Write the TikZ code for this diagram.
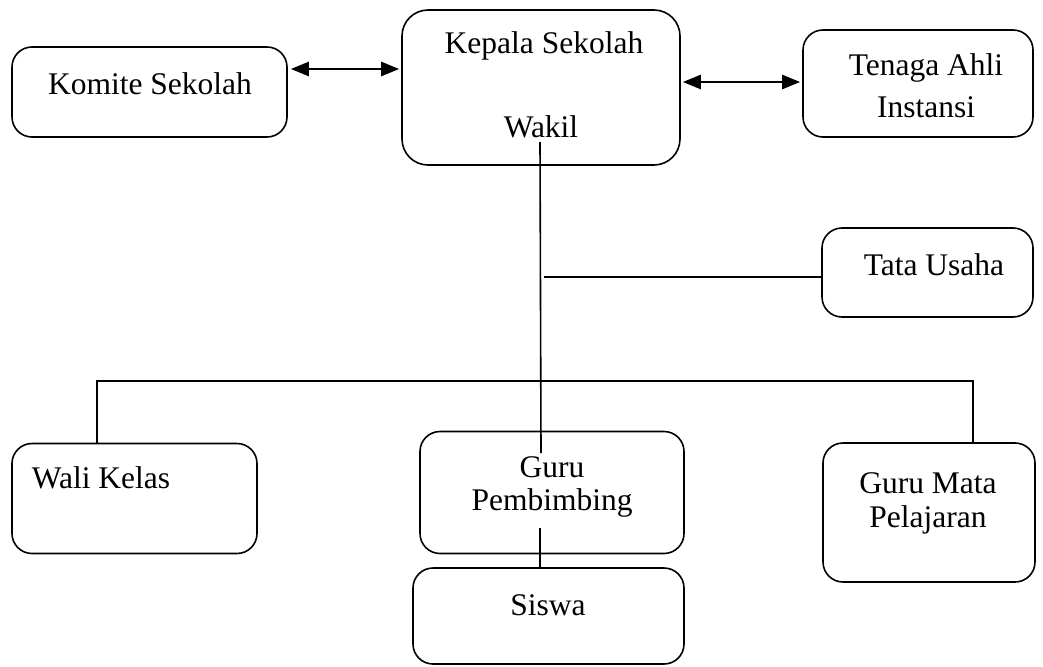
\documentclass[tikz,border=0pt]{standalone}
\usepackage{fontspec}
\setmainfont{Liberation Serif}
\usetikzlibrary{arrows.meta,calc}
\begin{document}
\begin{tikzpicture}[x=1pt,y=-1pt,
  box/.style={draw,line width=1.6pt,rounded corners=20pt,inner sep=0pt},
  txt/.style={font=\fontsize{31.5}{38}\selectfont,inner sep=0pt,anchor=center},
  conn/.style={line width=1.6pt},
  dbl/.style={line width=2.4pt,{Triangle[length=18pt,width=14pt]}-{Triangle[length=18pt,width=14pt]}}]
\useasboundingbox (0,0) rectangle (1043,666);
% boxes
\node[box,minimum width=275pt,minimum height=90pt] (komite) at (149.5,92) {};
\node[box,rounded corners=26pt,minimum width=278pt,minimum height=155pt] (kepala) at (541,87.5) {};
\node[box,minimum width=230pt,minimum height=107pt] (tenaga) at (918,83.5) {};
\node[box,minimum width=211pt,minimum height=89pt] (tata) at (927.5,272.5) {};
\node[box,minimum width=245pt,minimum height=110pt] (wali) at (134.5,498.5) {};
\node[box,minimum width=264pt,minimum height=122pt] (gp) at (552,492.5) {};
\node[box,minimum width=212pt,minimum height=139pt] (gmp) at (929,512.5) {};
\node[box,minimum width=271pt,minimum height=96pt] (siswa) at (548.5,616) {};
% texts
\node[txt] (tkomite) at (150,84) {Komite Sekolah};
\node[txt] (tkepala) at (544,46) {Kepala Sekolah};
\node[txt] (twakil) at (541,127) {Wakil};
\node[txt] (ttenaga1) at (926,68) {Tenaga Ahli};
\node[txt] (ttenaga2) at (926,107) {Instansi};
\node[txt] (ttata) at (934,265) {Tata Usaha};
\node[txt] (twali) at (101,478) {Wali Kelas};
\node[txt] (tgp1) at (552,467) {Guru};
\node[txt] (tgp2) at (552,503) {Pembimbing};
\node[txt] (tgmp1) at (928,483) {Guru Mata};
\node[txt] (tgmp2) at (928,520) {Pelajaran};
\node[txt] (tsiswa) at (548,605) {Siswa};
% helper coordinates
\coordinate (a1) at (0,69);
\coordinate (a2) at (0,82);
\coordinate (vtop) at (540,142);
\coordinate (vbot) at (541,453);
\coordinate (tu) at (544,277);
\coordinate (hlL) at (97,381);
\coordinate (hlR) at (973,381);
\coordinate (ss) at (540,528);
% connectors
\draw[dbl] ($(komite.east |- a1)+(3,0)$) -- ($(kepala.west |- a1)+(-2,0)$);
\draw[dbl] ($(kepala.east |- a2)+(2,0)$) -- ($(tenaga.west |- a2)+(-2,0)$);
\draw[conn] (vtop) -- (vbot);
\draw[conn] (tu) -- (tata.west |- tu);
\draw[conn] (wali.north -| hlL) -- (hlL) -- (hlR) -- (gmp.north -| hlR);
\draw[conn] (ss) -- (siswa.north -| ss);
\end{tikzpicture}
\end{document}
